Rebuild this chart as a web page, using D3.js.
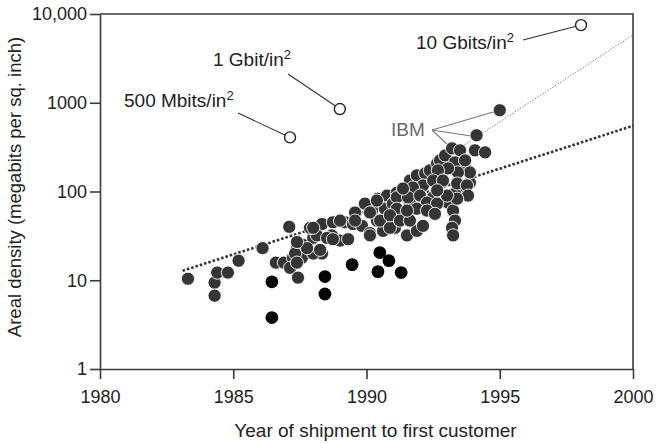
<!DOCTYPE html>
<html>
<head>
<meta charset="utf-8">
<script src="https://cdn.jsdelivr.net/npm/d3@7"></script>
<style>
  body { margin: 0; background: #fff; }
  text { font-family: "Liberation Sans", Arial, sans-serif; fill: #222; }
</style>
</head>
<body>
<script>
var width = 656,
    height = 443;

// Drives shipped (year, megabits per sq. inch)
var drives = [
  [1983.3, 10.4], [1984.3, 9.4], [1984.3, 6.7], [1984.4, 12.2], [1984.8, 12.2],
  [1985.2, 16.6], [1986.1, 23], [1986.6, 15.8], [1986.9, 15.8], [1987.1, 40],
  [1987.24, 18], [1987.58, 18], [1987.39, 23], [1987.62, 25], [1988.0, 30],
  [1988.33, 43], [1988.74, 45], [1989.19, 45], [1988.7, 32], [1989.01, 28],
  [1988.33, 20], [1988.0, 20], [1987.32, 20], [1987.13, 13.8], [1987.43, 10.7],
  [1987.39, 15.8], [1987.77, 23], [1988.26, 22], [1988.14, 32], [1988.52, 30],
  [1988.74, 29], [1989.31, 29], [1987.88, 39], [1989.57, 58], [1989.49, 43],
  [1989.83, 41], [1990.13, 34], [1990.39, 47], [1990.21, 61], [1990.43, 83],
  [1990.77, 90], [1991.14, 97], [1990.88, 66], [1990.81, 51], [1991.14, 54],
  [1990.62, 36], [1991.07, 39], [1989.57, 47], [1989.01, 47], [1989.94, 73],
  [1990.13, 58], [1990.69, 64], [1990.99, 73], [1990.39, 79], [1990.13, 32],
  [1990.51, 47], [1990.88, 39], [1991.52, 32], [1991.89, 36], [1991.37, 103],
  [1991.63, 73], [1991.56, 56], [1991.63, 133], [1991.89, 152], [1992.2, 160],
  [1992.38, 173], [1992.12, 117], [1992.65, 207], [1993.02, 224], [1993.4, 173],
  [1993.7, 187], [1993.88, 126], [1993.62, 108], [1993.32, 95], [1993.06, 75],
  [1992.5, 86], [1991.74, 111], [1991.14, 86], [1991.56, 86], [1992.01, 90],
  [1992.27, 75], [1992.65, 73], [1991.89, 64], [1991.14, 64], [1990.88, 54],
  [1991.26, 47], [1991.63, 47], [1992.27, 61], [1992.57, 56], [1993.25, 61],
  [1993.32, 47], [1993.21, 39], [1993.25, 32], [1992.12, 41], [1992.76, 224],
  [1992.95, 255], [1993.21, 306], [1993.51, 291], [1994.07, 291], [1994.45, 276],
  [1993.32, 213], [1993.7, 224], [1993.88, 164], [1993.43, 164], [1993.06, 182],
  [1992.68, 173], [1992.5, 133], [1992.87, 133], [1993.4, 123], [1993.77, 117],
  [1993.81, 90], [1993.4, 83], [1993.02, 90], [1992.65, 103], [1991.37, 108],
  [1991.52, 61], [1987.39, 27], [1988.0, 39],
  [1994.13, 430], [1995.0, 823]
];

// second group, drawn solid black
var blackDrives = [
  [1986.45, 9.6], [1986.45, 3.8], [1988.44, 11], [1988.44, 7.0], [1989.46, 15],
  [1990.5, 20.5], [1990.84, 16.6], [1990.43, 12.5], [1991.3, 12.2]
];

// announced densities (open circles)
var demos = [
  { label: "500 Mbits/in", year: 1987.13, value: 407, lx: 124, ly: 107, from: [238, 113] },
  { label: "1 Gbit/in", year: 1989.0, value: 850, lx: 213, ly: 66, from: [288, 74] },
  { label: "10 Gbits/in", year: 1998.05, value: 7500, lx: 416, ly: 49, from: [523, 40] }
];

// IBM drives pointed out
var ibm = [[1995.0, 823], [1994.13, 430], [1993.4, 300]];

// trend lines
var trendAll = [[1983.1, 12.8], [2000, 550]];
var trendIBM = [[1990, 64], [2000, 5800]];

var xTicks = [1980, 1985, 1990, 1995, 2000],
    yTicks = [1, 10, 100, 1000, 10000];

var svg = d3.select("body")
            .append("svg")
            .attr("width", width)
            .attr("height", height);

var x = d3.scaleLinear().domain([1980, 2000]).range([100, 633]);
var y = d3.scaleLog().domain([1, 10000]).range([369, 14]);

var axisColor = "#3a3a3a";

// frame
svg.append("path")
   .attr("d", "M" + x(1980) + "," + y(10000) + "H" + x(2000) + "V" + y(1))
   .attr("fill", "none").attr("stroke", axisColor).attr("stroke-width", 1.6);

var xAxis = svg.append("g")
   .attr("transform", "translate(0," + y(1) + ")")
   .call(d3.axisBottom(x).tickValues(xTicks).tickFormat(d3.format("d"))
           .tickSize(10).tickSizeOuter(0).tickPadding(11));

var yAxis = svg.append("g")
   .attr("transform", "translate(" + x(1980) + ",0)")
   .call(d3.axisLeft(y).tickValues(yTicks)
           .tickFormat(function(d) { return d === 10000 ? "10,000" : d; })
           .tickSize(10).tickSizeOuter(0).tickPadding(3));

[xAxis, yAxis].forEach(function(g) {
  g.selectAll("path, line").attr("stroke", axisColor).attr("stroke-width", 1.6);
  g.selectAll("text").attr("font-size", 18).attr("fill", "#222")
   .attr("font-family", "Liberation Sans, Arial, sans-serif");
});

svg.append("text")
   .attr("x", x(1990) + 9).attr("y", 437)
   .attr("text-anchor", "middle").attr("font-size", 19)
   .text("Year of shipment to first customer");

svg.append("text")
   .attr("transform", "translate(21,187) rotate(-90)")
   .attr("text-anchor", "middle").attr("font-size", 18.5)
   .text("Areal density (megabits per sq. inch)");

var line = d3.line().x(function(d) { return x(d[0]); }).y(function(d) { return y(d[1]); });

svg.append("path").datum(trendIBM)
   .attr("d", line).attr("fill", "none")
   .attr("stroke", "#777").attr("stroke-width", 0.9).attr("stroke-dasharray", "1.5,1.5");

svg.append("path").datum(trendAll)
   .attr("d", line).attr("fill", "none")
   .attr("stroke", "#333").attr("stroke-width", 2.6).attr("stroke-dasharray", "2.5,2");

// IBM callout
svg.append("text").attr("x", 391).attr("y", 136)
   .attr("font-size", 19).style("fill", "#6a6a6a").text("IBM");
svg.selectAll(".ibm").data(ibm).enter().append("line")
   .attr("x1", 432).attr("y1", 130)
   .attr("x2", function(d) { return x(d[0]) - 4; })
   .attr("y2", function(d) { return y(d[1]) + 1; })
   .attr("stroke", "#777").attr("stroke-width", 1.1);

svg.append("g").selectAll("circle")
   .data(drives).enter().append("circle")
   .attr("cx", function(d) { return x(d[0]); })
   .attr("cy", function(d) { return y(d[1]); })
   .attr("r", 6.6)
   .attr("fill", "#353535").attr("stroke", "#fff").attr("stroke-width", 0.9);

svg.append("g").selectAll("circle")
   .data(blackDrives).enter().append("circle")
   .attr("cx", function(d) { return x(d[0]); })
   .attr("cy", function(d) { return y(d[1]); })
   .attr("r", 6.4)
   .attr("fill", "#050505");

// open circles with labels
var demo = svg.append("g").selectAll("g").data(demos).enter().append("g");
demo.append("line")
   .attr("x1", function(d) { return d.from[0]; })
   .attr("y1", function(d) { return d.from[1]; })
   .attr("x2", function(d) { return x(d.year); })
   .attr("y2", function(d) { return y(d.value); })
   .attr("stroke", "#333").attr("stroke-width", 1.1);
demo.append("circle")
   .attr("cx", function(d) { return x(d.year); })
   .attr("cy", function(d) { return y(d.value); })
   .attr("r", 5.5)
   .attr("fill", "#fff").attr("stroke", "#222").attr("stroke-width", 1.4);
var lbl = demo.append("text")
   .attr("x", function(d) { return d.lx; })
   .attr("y", function(d) { return d.ly; })
   .attr("font-size", 19);
lbl.append("tspan").text(function(d) { return d.label; });
lbl.append("tspan").attr("dy", -7).attr("font-size", 13).text("2");
</script>
</body>
</html>
